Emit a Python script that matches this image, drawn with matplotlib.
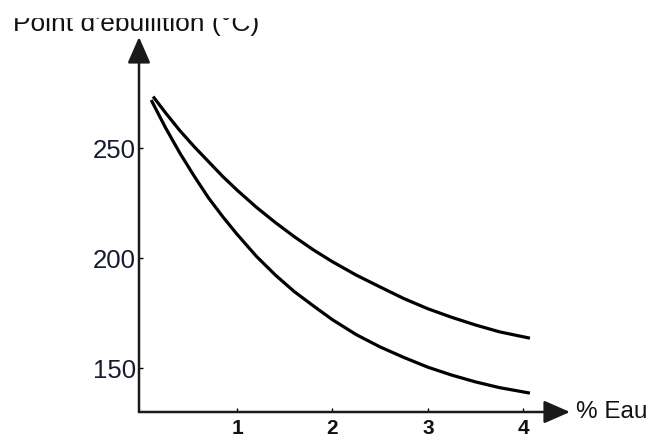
import matplotlib.pyplot as plt
from matplotlib.patches import Rectangle

# ==========================================
# DATA
# ==========================================
water_upper = [0.12, 0.25, 0.40, 0.55, 0.70, 0.85, 1.00, 1.20, 1.40, 1.60, 1.80,
               2.00, 2.25, 2.50, 2.75, 3.00, 3.25, 3.50, 3.75, 4.07]
temp_upper = [273.6, 266.2, 258.1, 250.8, 244.0, 237.2, 231.0, 223.3, 216.3, 209.8, 203.8,
              198.4, 192.3, 186.9, 181.6, 177.0, 173.1, 169.6, 166.5, 163.6]

water_lower = [0.10, 0.25, 0.40, 0.55, 0.70, 0.85, 1.00, 1.20, 1.40, 1.60, 1.80,
               2.00, 2.25, 2.50, 2.75, 3.00, 3.25, 3.50, 3.75, 4.07]
temp_lower = [272.0, 259.4, 247.9, 237.4, 227.5, 218.9, 210.9, 201.0, 192.4, 184.8, 178.3,
              172.0, 165.2, 159.6, 154.8, 150.4, 146.8, 143.7, 141.1, 138.6]

x_ticks = [1, 2, 3, 4]
y_ticks = [150, 200, 250]

plt.rcParams['font.family'] = ['Liberation Sans', 'DejaVu Sans']

fig = plt.figure(figsize=(6.54, 4.45), dpi=100)
ax = fig.add_axes([139 / 654, 33 / 445, 431 / 654, 375 / 445])

ax.plot(water_upper, temp_upper, color='black', lw=2.3, solid_capstyle='butt')
ax.plot(water_lower, temp_lower, color='black', lw=2.3, solid_capstyle='butt')

ax.set_xlim(-0.028, 4.49)
ax.set_ylim(130.0, 300.7)

# axes drawn as arrows instead of spines
for s in ax.spines.values():
    s.set_visible(False)
arrow = dict(arrowstyle='-|>,head_length=0.8,head_width=0.35', lw=1.8,
             color='#1a1a1a', shrinkA=0, shrinkB=0, mutation_scale=20)
ax.annotate('', xy=(0, 1), xytext=(0, 0), xycoords='axes fraction',
            arrowprops=arrow, annotation_clip=False)
ax.annotate('', xy=(1, 0), xytext=(0, 0), xycoords='axes fraction',
            arrowprops=arrow, annotation_clip=False)

ax.set_xticks(x_ticks)
ax.set_yticks(y_ticks)
ax.tick_params(axis='y', direction='in', length=3, width=1, pad=2,
               labelsize=18.5, labelcolor='#171a30')
ax.tick_params(axis='x', direction='in', length=3, width=1, pad=5,
               labelsize=15, labelcolor='#111111')
for lbl in ax.get_xticklabels():
    lbl.set_fontweight('bold')

ax.annotate('% Eau', xy=(1, 0), xycoords='axes fraction', xytext=(4, 0),
            textcoords='offset points', ha='left', va='center',
            fontsize=17.5, color='#111111', annotation_clip=False)

fig.text(13 / 654, 1 - 31 / 445, "Point d'ébullition (°C)", ha='left',
         va='baseline', fontsize=19, color='#111111')
# the scan cuts off the top of the title
fig.patches.append(Rectangle((0, 1 - 17 / 445), 1, 17 / 445,
                             transform=fig.transFigure, color='white', zorder=10))

fig.savefig('out.png', dpi=100)
